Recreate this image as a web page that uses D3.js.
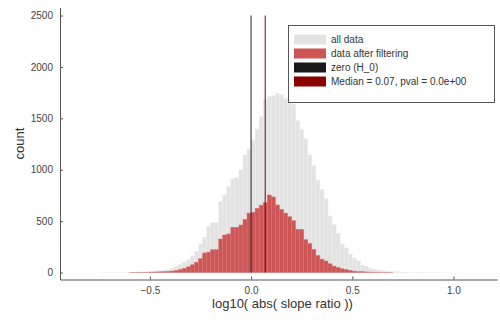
<!DOCTYPE html>
<html>
<head>
<meta charset="utf-8">
<script src="https://cdn.jsdelivr.net/npm/d3@7"></script>
<style>
  body { margin: 0; background: #fff; }
  svg { display: block; font-family: "Liberation Sans", Arial, Helvetica, sans-serif; }
  .tick text { fill: #444; font-size: 10px; }
</style>
</head>
<body>
<svg id="chart"></svg>
<script>
const width = 500;
const height = 320;

// histogram bins: left edge of each bin (log10 of |slope ratio|), width 0.02
const binWidth = 0.02;
const binLefts = d3.range(-37, 48).map(k => +(k * binWidth).toFixed(2));

// counts per bin, all data
const allCounts = [
    1, 1, 1, 1, 2, 2, 3, 3, 4, 5, 7, 9, 11, 14, 18, 23, 31, 42, 58, 78,
    102, 128, 162, 205, 280, 345, 450, 485, 485, 689, 754, 835, 910, 926, 997, 1143, 1201,
    1285, 1395, 1520, 1685, 1710, 1720, 1745, 1730, 1690, 1650, 1636, 1478, 1390, 1300,
    1143, 1040, 900, 810, 718, 550, 467, 381, 278, 240, 180, 143, 115, 73, 60, 41, 31,
    24, 18, 14, 11, 9, 7, 5, 4, 3, 3, 2, 2, 1, 1, 1, 1, 1
];

// counts per bin, data after filtering
const filteredCounts = [
    0, 0, 0, 0, 0, 0, 0, 1, 1, 2, 2, 3, 4, 5, 6, 8, 10, 14, 20, 28,
    40, 55, 75, 100, 135, 190, 198, 222, 222, 326, 365, 375, 440, 440, 462, 517, 578,
    585, 624, 655, 680, 754, 735, 657, 615, 578, 543, 504, 420, 420, 320,
    283, 225, 165, 130, 112, 85, 62, 48, 36, 28, 20, 13, 9, 9, 5, 4, 3,
    2, 1, 2, 1, 0, 0, 0, 0, 0, 0, 0, 0, 0, 0, 0, 0, 0
];

const zeroValue = 0;
const medianValue = 0.07;
const vlineTop = 2500;

const xTicks = [-0.5, 0.0, 0.5, 1.0];
const yTicks = [0, 500, 1000, 1500, 2000, 2500];

const legendItems = [
    {label: 'all data', color: '#e3e3e3'},
    {label: 'data after filtering', color: '#cd5555'},
    {label: 'zero (H_0)', color: '#1a1a1a'},
    {label: 'Median = 0.07, pval = 0.0e+00', color: '#8b0000'}
];

const plot = {left: 60, right: 497, top: 7.5, bottom: 279.5};

const svg = d3.select("#chart")
    .attr("width", width)
    .attr("height", height);

const x = d3.scaleLinear()
    .domain([-0.944, 1.215])
    .range([plot.left, plot.right]);

const y = d3.scaleLinear()
    .domain([-68, 2578])
    .range([plot.bottom, plot.top]);

const bins = binLefts.map((lo, i) => ({lo, all: allCounts[i], filtered: filteredCounts[i]}));

// gray bars
svg.append("g")
    .selectAll("rect")
    .data(bins.filter(d => d.all > 0))
    .join("rect")
    .attr("x", d => x(d.lo))
    .attr("width", d => x(d.lo + binWidth) - x(d.lo))
    .attr("y", d => y(d.all))
    .attr("height", d => y(0) - y(d.all))
    .style("fill", "#e3e3e3")
    .style("stroke", "#eeeeee")
    .style("stroke-width", 0.5);

// red bars
svg.append("g")
    .selectAll("rect")
    .data(bins.filter(d => d.filtered > 0))
    .join("rect")
    .attr("x", d => x(d.lo))
    .attr("width", d => x(d.lo + binWidth) - x(d.lo))
    .attr("y", d => y(d.filtered))
    .attr("height", d => y(0) - y(d.filtered))
    .style("fill", "#cd5555")
    .style("stroke", "#d97575")
    .style("stroke-width", 0.5);

// vertical lines
svg.append("line")
    .attr("x1", x(zeroValue)).attr("x2", x(zeroValue))
    .attr("y1", y(0)).attr("y2", y(vlineTop))
    .style("stroke", "#1a1a1a")
    .style("stroke-opacity", 0.8)
    .style("stroke-width", 1.2);

svg.append("line")
    .attr("x1", x(medianValue)).attr("x2", x(medianValue))
    .attr("y1", y(0)).attr("y2", y(vlineTop))
    .style("stroke", "#8b0000")
    .style("stroke-opacity", 0.85)
    .style("stroke-width", 1.2);

// axes
const xAxis = svg.append("g")
    .attr("transform", `translate(0,${plot.bottom})`)
    .call(d3.axisBottom(x).tickValues(xTicks).tickFormat(d3.format(".1f")).tickSizeInner(-3).tickSizeOuter(0).tickPadding(7));

const yAxis = svg.append("g")
    .attr("transform", `translate(${plot.left},0)`)
    .call(d3.axisLeft(y).tickValues(yTicks).tickFormat(d3.format("d")).tickSizeInner(-3).tickSizeOuter(0).tickPadding(7));

[xAxis, yAxis].forEach(a => {
    a.select(".domain").style("stroke", "#555").style("stroke-width", 1);
    a.selectAll(".tick line").style("stroke", "#555");
});

// axis titles
svg.append("text")
    .attr("x", (plot.left + plot.right) / 2 + 4)
    .attr("y", 308)
    .attr("text-anchor", "middle")
    .style("font-size", "13px")
    .style("fill", "#333")
    .text("log10( abs( slope ratio ))");

svg.append("text")
    .attr("transform", `translate(24,${(plot.top + plot.bottom) / 2}) rotate(-90)`)
    .attr("text-anchor", "middle")
    .style("font-size", "13px")
    .style("fill", "#333")
    .text("count");

// legend
const legend = svg.append("g");

legend.append("rect")
    .attr("x", 288.5).attr("y", 25.5)
    .attr("width", 206).attr("height", 77)
    .style("fill", "#fff")
    .style("stroke", "#555")
    .style("stroke-width", 1);

const rows = legend.selectAll(".row")
    .data(legendItems)
    .join("g")
    .attr("class", "row")
    .attr("transform", (d, i) => `translate(0,${39.5 + i * 14})`);

rows.append("rect")
    .attr("x", 294).attr("y", -5)
    .attr("width", 32).attr("height", 10)
    .style("fill", d => d.color);

rows.append("text")
    .attr("x", 331).attr("y", 3.5)
    .style("font-size", "10px")
    .style("fill", "#333")
    .text(d => d.label);
</script>
</body>
</html>
